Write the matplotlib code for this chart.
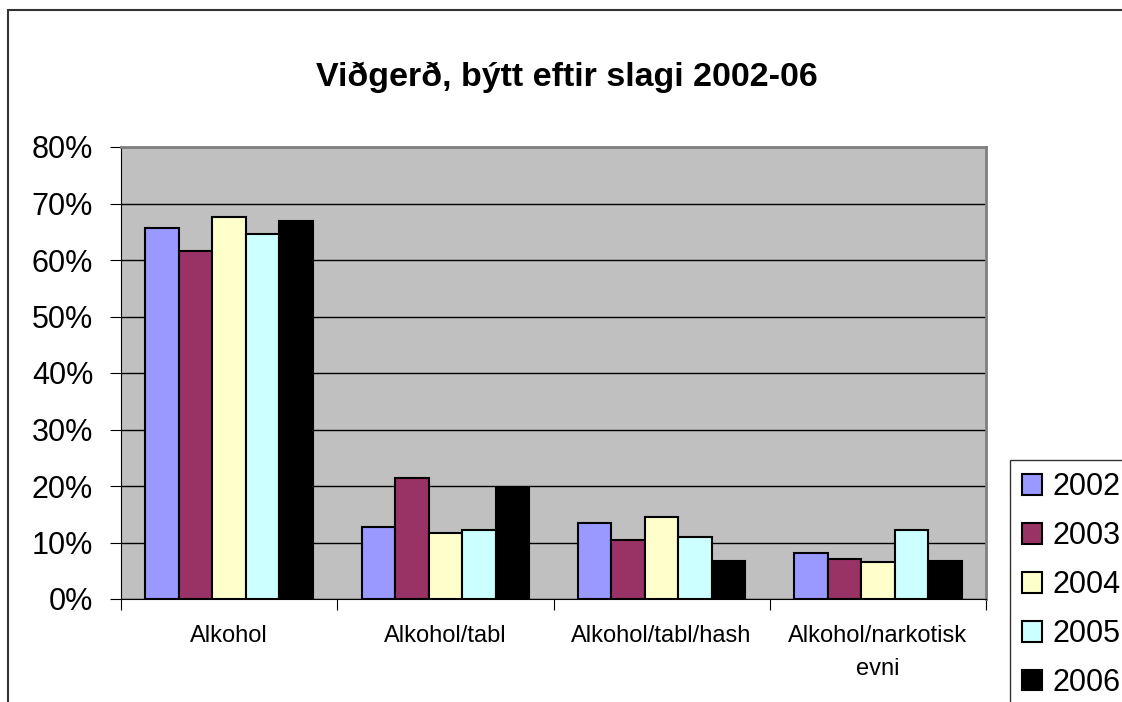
import numpy as np
import matplotlib.pyplot as plt
from matplotlib.patches import Rectangle

# Datos del gráfico
categories = ['Alkohol', 'Alkohol/tabl', 'Alkohol/tabl/hash', 'Alkohol/narkotisk\nevni']
years = ['2002', '2003', '2004', '2005', '2006']
v2002 = [65.7, 12.7, 13.5, 8.1]
v2003 = [61.6, 21.4, 10.4, 7.0]
v2004 = [67.6, 11.6, 14.6, 6.6]
v2005 = [64.6, 12.3, 10.9, 12.3]
v2006 = [66.9, 19.6, 6.7, 6.7]
series = [v2002, v2003, v2004, v2005, v2006]
colors = ['#9999FF', '#993366', '#FFFFCC', '#CCFFFF', '#000000']

plt.rcParams['font.family'] = ['Liberation Sans', 'DejaVu Sans']

W, H = 1122, 702
fig = plt.figure(figsize=(W / 100, H / 100), dpi=100)
ax = fig.add_axes([121 / W, 1 - 599 / H, 865 / W, 452 / H])
ax.set_facecolor('#C0C0C0')

x = np.arange(len(categories))
bw = 0.155
for i, (vals, c) in enumerate(zip(series, colors)):
    ax.bar(x + (i - 2) * bw, vals, width=bw, color=c, edgecolor='black',
           linewidth=1.5, label=years[i], zorder=3)

ax.set_xlim(-0.5, len(categories) - 0.5)
ax.set_ylim(0, 80)
ax.set_yticks(np.arange(0, 81, 10))
ax.set_yticklabels([f'{v}%' for v in range(0, 81, 10)], fontsize=22)
ax.yaxis.grid(True, color='black', linewidth=1, zorder=1)
ax.set_axisbelow(True)

# Marcas de categoría en los bordes de cada grupo
ax.set_xticks(np.arange(-0.5, len(categories), 1))
ax.set_xticklabels([])
ax.set_xticks(x, minor=True)
ax.set_xticklabels(categories, minor=True, fontsize=17, linespacing=1.65)
ax.tick_params(axis='x', which='minor', length=0, pad=19)
ax.tick_params(axis='x', which='major', length=8, color='black')
ax.tick_params(axis='y', length=8, pad=12)

for s in ['top', 'right']:
    ax.spines[s].set_color('#808080')
    ax.spines[s].set_linewidth(2)
for s in ['left', 'bottom']:
    ax.spines[s].set_color('black')

fig.text(567 / W, 1 - 77 / H, 'Viðgerð, býtt eftir slagi 2002-06', ha='center',
         va='center', fontsize=24.5, fontweight='bold')

# Borde del gráfico (recortado a la derecha y abajo)
fig.add_artist(Rectangle((8 / W, -0.2), 2, 1.2 - 10 / H, transform=fig.transFigure,
                         fill=False, edgecolor='#333333', linewidth=1.5))

leg = fig.legend(loc='upper left', bbox_to_anchor=(1010 / W, 1 - 460 / H),
                 fontsize=22, frameon=True, fancybox=False, handlelength=0.65,
                 handleheight=0.65, handletextpad=0.35, labelspacing=0.62,
                 borderpad=0.4, borderaxespad=0)
leg.get_frame().set_edgecolor('black')
leg.get_frame().set_linewidth(1)

fig.savefig('out.png', dpi=100)
